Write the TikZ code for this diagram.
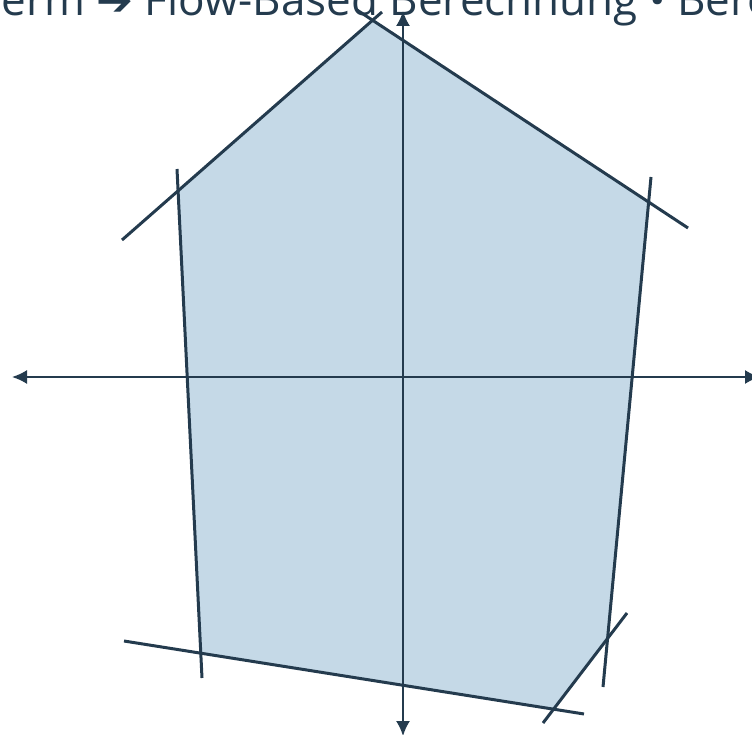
\documentclass[tikz,border=0pt]{standalone}
\usepackage{fontspec}
\setmainfont{Open Sans}
\newfontfamily\symfont{DejaVu Sans}
\usetikzlibrary{arrows.meta}
\definecolor{ink}{HTML}{243B4E}
\definecolor{region}{HTML}{C5D9E7}

\begin{document}
\begin{tikzpicture}[x=1pt, y=-1pt,
    axis/.style={ink, line width=1.8pt, {Latex[length=15pt,width=14pt]}-{Latex[length=15pt,width=14pt]}},
    bound/.style={ink, line width=3pt}]
    \clip (0,0) rectangle (752,735);

    % Feasible region
    \coordinate (p1) at (372,20);
    \coordinate (p2) at (649,202);
    \coordinate (p3) at (607,640);
    \coordinate (p4) at (553,709);
    \coordinate (p5) at (201,653);
    \coordinate (p6) at (178,192);
    \fill[region] (p1) -- (p2) -- (p3) -- (p4) -- (p5) -- (p6) -- cycle;

    % Axes
    \coordinate (xl) at (12,377);
    \coordinate (xr) at (760,377);
    \coordinate (yb) at (403,736);
    \coordinate (yt) at (403,11);
    \draw[axis] (xl) -- (xr);
    \draw[axis] (yb) -- (yt);

    % Constraint lines
    \coordinate (a1) at (122,240); \coordinate (a2) at (382,12);
    \coordinate (b1) at (357,10);  \coordinate (b2) at (688,228);
    \coordinate (c1) at (651,177); \coordinate (c2) at (603,687);
    \coordinate (d1) at (627,613); \coordinate (d2) at (543,723);
    \coordinate (e1) at (124,641); \coordinate (e2) at (584,714);
    \coordinate (f1) at (177,169); \coordinate (f2) at (202,678);
    \foreach \s in {a,b,c,d,e,f}
      \draw[bound] (\s1) -- (\s2);

    % Title (cut off at the top)
    \node[anchor=base west, ink, inner sep=0pt, font=\fontsize{44}{50}\selectfont] (title) at (-20,16)
      {Term {\symfont ➔} Flow-Based Berechnung • Bere};
\end{tikzpicture}
\end{document}
